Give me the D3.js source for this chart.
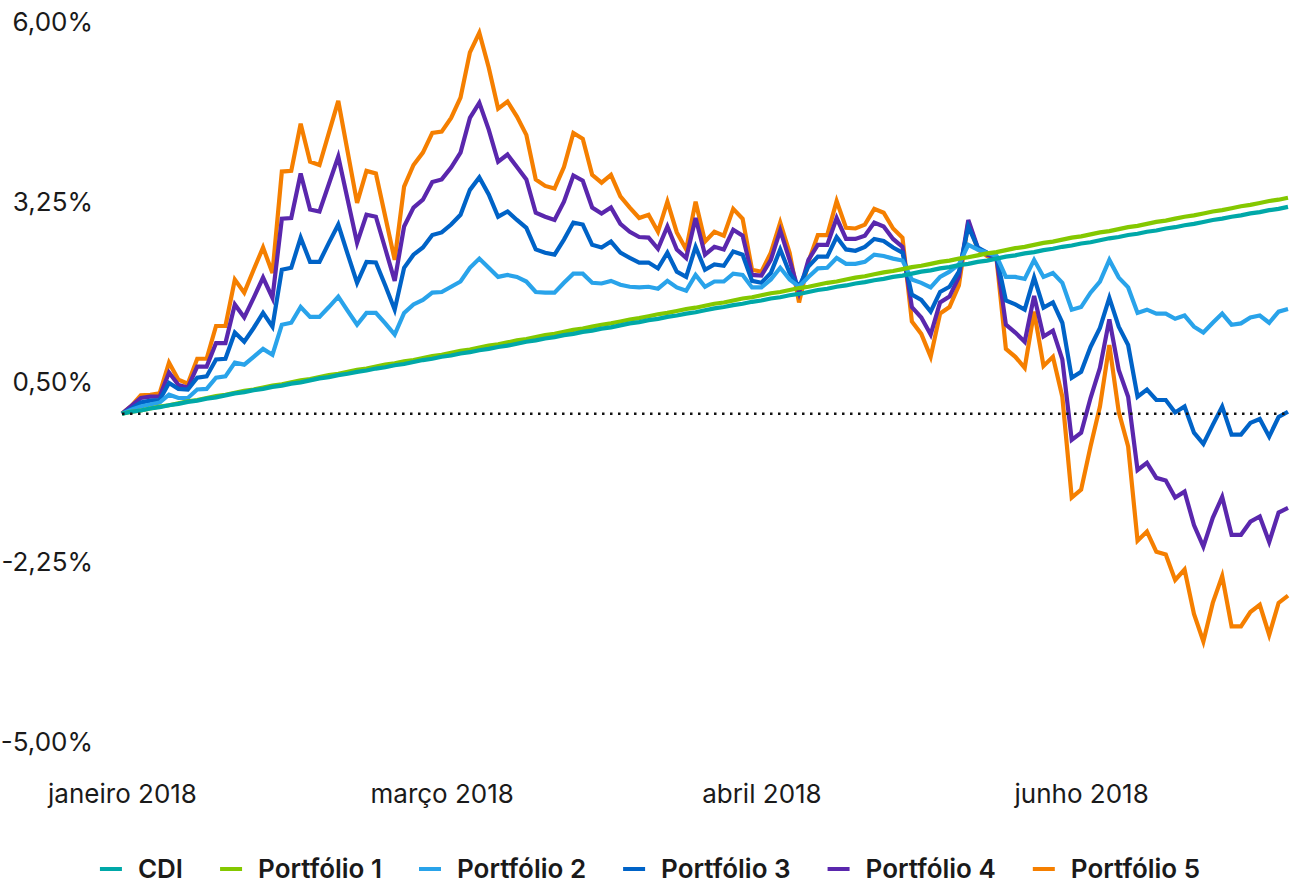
<!DOCTYPE html>
<html lang="pt-BR">
<head>
<meta charset="utf-8">
<title>Portfólios x CDI</title>
<script src="https://cdn.jsdelivr.net/npm/d3@7"></script>
<style>
  body { margin: 0; background: #fff; }
  svg text { font-family: Inter, "Open Sans", sans-serif; fill: #1a1a1a; }
</style>
</head>
<body>
<svg id="chart" width="1293" height="883"></svg>
<script>
// retorno acumulado (%), um ponto por dia útil, jan-jun 2018
const cdi = [0.00,0.03,0.05,0.08,0.10,0.13,0.15,0.18,0.20,0.23,
  0.25,0.28,0.31,0.33,0.36,0.38,0.41,0.43,0.46,0.48,
  0.51,0.54,0.56,0.59,0.61,0.64,0.66,0.69,0.71,0.74,
  0.76,0.79,0.82,0.84,0.87,0.89,0.92,0.94,0.97,0.99,
  1.02,1.04,1.07,1.10,1.12,1.15,1.17,1.20,1.22,1.25,
  1.27,1.30,1.32,1.35,1.38,1.40,1.43,1.45,1.48,1.50,
  1.53,1.55,1.58,1.61,1.63,1.66,1.68,1.71,1.73,1.76,
  1.78,1.81,1.83,1.86,1.89,1.91,1.94,1.96,1.99,2.01,
  2.04,2.06,2.09,2.11,2.14,2.17,2.19,2.22,2.24,2.27,
  2.29,2.32,2.34,2.37,2.40,2.42,2.45,2.47,2.50,2.52,
  2.55,2.57,2.60,2.62,2.65,2.68,2.70,2.73,2.75,2.78,
  2.80,2.83,2.85,2.88,2.90,2.93,2.96,2.98,3.01,3.03,
  3.06,3.08,3.11,3.13,3.16];

const port1 = [0.00,0.03,0.05,0.08,0.11,0.13,0.16,0.19,0.21,0.24,
  0.27,0.29,0.32,0.35,0.37,0.40,0.43,0.45,0.48,0.51,
  0.53,0.56,0.59,0.61,0.64,0.67,0.69,0.72,0.75,0.77,
  0.80,0.82,0.85,0.88,0.90,0.93,0.96,0.98,1.01,1.04,
  1.06,1.09,1.12,1.14,1.17,1.20,1.22,1.25,1.28,1.30,
  1.33,1.36,1.38,1.41,1.44,1.46,1.49,1.52,1.54,1.57,
  1.60,1.62,1.65,1.68,1.70,1.73,1.76,1.78,1.81,1.84,
  1.86,1.89,1.92,1.94,1.97,2.00,2.02,2.05,2.08,2.10,
  2.13,2.16,2.18,2.21,2.24,2.26,2.29,2.32,2.34,2.37,
  2.39,2.42,2.45,2.47,2.50,2.53,2.55,2.58,2.61,2.63,
  2.66,2.69,2.71,2.74,2.77,2.79,2.82,2.85,2.87,2.90,
  2.93,2.95,2.98,3.01,3.03,3.06,3.09,3.11,3.14,3.17,
  3.19,3.22,3.25,3.27,3.30];

const port2 = [0.00,0.06,0.11,0.14,0.17,0.29,0.24,0.24,0.37,0.38,
  0.55,0.57,0.78,0.75,0.87,0.99,0.90,1.36,1.39,1.63,
  1.48,1.48,1.63,1.79,1.57,1.36,1.54,1.54,1.38,1.21,
  1.54,1.67,1.74,1.85,1.86,1.94,2.02,2.23,2.37,2.23,
  2.09,2.12,2.09,2.02,1.86,1.85,1.85,2.00,2.14,2.14,
  2.00,1.99,2.03,1.97,1.94,1.93,1.94,1.91,2.03,1.93,
  1.88,2.12,1.94,2.02,2.02,2.14,2.12,1.93,1.93,2.05,
  2.23,2.05,1.94,2.09,2.22,2.23,2.38,2.29,2.29,2.32,
  2.43,2.41,2.37,2.34,2.05,2.00,1.93,2.09,2.17,2.28,
  2.58,2.51,2.46,2.41,2.09,2.09,2.06,2.35,2.09,2.15,
  2.00,1.59,1.63,1.85,2.02,2.35,2.08,1.93,1.54,1.59,
  1.53,1.53,1.45,1.50,1.33,1.24,1.39,1.53,1.36,1.38,
  1.47,1.50,1.39,1.56,1.60];

const port3 = [0.00,0.08,0.17,0.20,0.21,0.47,0.38,0.37,0.55,0.57,
  0.83,0.84,1.24,1.10,1.31,1.54,1.33,2.20,2.23,2.69,
  2.32,2.32,2.61,2.89,2.44,2.00,2.32,2.31,1.96,1.59,
  2.23,2.43,2.54,2.73,2.77,2.89,3.04,3.42,3.61,3.35,
  3.01,3.09,2.96,2.84,2.51,2.46,2.43,2.66,2.92,2.89,
  2.58,2.54,2.63,2.46,2.38,2.31,2.31,2.22,2.46,2.17,
  2.09,2.55,2.20,2.28,2.26,2.48,2.43,2.03,2.00,2.15,
  2.51,2.15,1.94,2.25,2.40,2.40,2.70,2.51,2.49,2.55,
  2.67,2.64,2.54,2.46,1.82,1.74,1.56,1.86,1.94,2.17,
  2.86,2.54,2.46,2.40,1.73,1.67,1.59,2.08,1.62,1.70,
  1.39,0.55,0.64,1.02,1.31,1.77,1.33,1.05,0.26,0.37,
  0.21,0.21,0.02,0.11,-0.29,-0.46,-0.17,0.11,-0.32,-0.32,
  -0.14,-0.08,-0.35,-0.05,0.03];

const port4 = [0.00,0.12,0.24,0.26,0.26,0.63,0.44,0.40,0.72,0.72,
  1.08,1.08,1.67,1.47,1.77,2.08,1.77,2.98,2.99,3.67,
  3.12,3.09,3.51,3.93,3.27,2.61,3.04,3.01,2.52,2.03,
  2.86,3.15,3.27,3.54,3.58,3.76,3.99,4.52,4.75,4.34,
  3.85,3.96,3.77,3.58,3.07,3.01,2.96,3.24,3.64,3.56,
  3.15,3.06,3.15,2.90,2.78,2.70,2.69,2.52,2.86,2.51,
  2.38,2.99,2.43,2.55,2.51,2.81,2.72,2.12,2.11,2.35,
  2.80,2.35,1.85,2.35,2.58,2.58,2.99,2.67,2.67,2.72,
  2.92,2.86,2.67,2.55,1.63,1.47,1.21,1.70,1.79,2.09,
  2.96,2.54,2.43,2.38,1.36,1.24,1.10,1.80,1.18,1.27,
  0.83,-0.40,-0.29,0.24,0.70,1.44,0.67,0.26,-0.86,-0.75,
  -0.98,-1.02,-1.28,-1.19,-1.70,-2.03,-1.59,-1.27,-1.85,-1.85,
  -1.65,-1.57,-1.96,-1.51,-1.44];

const port5 = [0.00,0.12,0.28,0.29,0.31,0.78,0.52,0.46,0.84,0.84,
  1.34,1.34,2.05,1.85,2.20,2.54,2.15,3.70,3.71,4.43,
  3.85,3.80,4.29,4.78,4.00,3.22,3.71,3.67,3.01,2.35,
  3.47,3.80,3.99,4.29,4.31,4.52,4.83,5.52,5.82,5.29,
  4.66,4.77,4.54,4.26,3.58,3.48,3.44,3.77,4.29,4.20,
  3.65,3.53,3.65,3.32,3.15,2.99,3.04,2.78,3.24,2.77,
  2.51,3.24,2.63,2.78,2.72,3.13,2.98,2.20,2.17,2.46,
  2.92,2.46,1.70,2.32,2.73,2.73,3.25,2.84,2.83,2.89,
  3.13,3.07,2.83,2.69,1.41,1.22,0.87,1.53,1.63,1.96,
  2.93,2.51,2.41,2.37,0.99,0.87,0.70,1.56,0.73,0.87,
  0.26,-1.28,-1.16,-0.50,0.11,1.05,0.03,-0.50,-1.94,-1.80,
  -2.11,-2.15,-2.54,-2.38,-3.06,-3.48,-2.89,-2.48,-3.25,-3.25,
  -3.03,-2.92,-3.38,-2.89,-2.78];

const seriesNames = ["CDI", "Portfólio 1", "Portfólio 2", "Portfólio 3", "Portfólio 4", "Portfólio 5"];
const seriesColors = ["#00a8a8", "#84c800", "#29a3ea", "#0063c7", "#5a27ad", "#f57f00"];
const seriesData = [cdi, port1, port2, port3, port4, port5];

const yTicks = [6, 3.25, 0.5, -2.25, -5];
const xTickIdx = [0, 34, 68, 102];
const xTickLabels = ["janeiro 2018", "março 2018", "abril 2018", "junho 2018"];

const svg = d3.select("#chart");

const x = d3.scaleLinear().domain([0, cdi.length - 1]).range([122, 1288]);
const y = d3.scaleLinear().domain([-5, 6]).range([741, 21]);

const ptBR = d3.formatLocale({decimal: ",", thousands: ".", grouping: [3], currency: ["R$", ""], minus: "-"});
const fmt = ptBR.format(".2f");

// eixo y
const yAxis = svg.append("g")
    .attr("transform", "translate(122,0)")
    .call(d3.axisLeft(y).tickValues(yTicks).tickSize(0).tickPadding(29)
        .tickFormat(d => fmt(d) + "%"))
    .attr("font-family", null)
    .attr("font-size", 26);
yAxis.select(".domain").remove();
yAxis.selectAll("text").attr("dy", "0.36em");

// eixo x
const xAxis = svg.append("g")
    .attr("transform", "translate(0,741)")
    .call(d3.axisBottom(x).tickValues(xTickIdx).tickSize(0).tickPadding(44)
        .tickFormat((d, i) => xTickLabels[i]))
    .attr("font-family", null)
    .attr("font-size", 26);
xAxis.select(".domain").remove();

// linhas, de trás pra frente
const line = d3.line()
    .x((d, i) => x(i))
    .y(d => y(d));

const order = [5, 4, 3, 2, 1, 0];
svg.append("g")
  .selectAll("path")
  .data(order)
  .join("path")
    .attr("d", k => line(seriesData[k]))
    .attr("fill", "none")
    .attr("stroke", k => seriesColors[k])
    .attr("stroke-width", 4.2);

// linha pontilhada no zero
svg.append("line")
    .attr("x1", x(0)).attr("x2", x(cdi.length - 1))
    .attr("y1", y(0)).attr("y2", y(0))
    .attr("stroke", "#111")
    .attr("stroke-width", 2.5)
    .attr("stroke-dasharray", "2.5 5.5");

// legenda
const legend = svg.append("g").attr("transform", "translate(0,869)");
const items = legend.selectAll("g")
  .data(seriesNames)
  .join("g");
items.append("line")
    .attr("x1", 0).attr("x2", 22)
    .attr("stroke", (d, i) => seriesColors[i])
    .attr("stroke-width", 4);
items.append("text")
    .attr("x", 38)
    .attr("dy", "0.36em")
    .attr("font-size", 26)
    .attr("font-weight", 600)
    .text(d => d);

let pos = 0;
const offsets = [];
items.each(function() {
  offsets.push(pos);
  const w = d3.select(this).select("text").node().getComputedTextLength();
  pos += 38 + w + 37;
});
const total = pos - 37;
const start = 650 - total / 2;
items.attr("transform", (d, i) => `translate(${start + offsets[i]},0)`);
</script>
</body>
</html>
